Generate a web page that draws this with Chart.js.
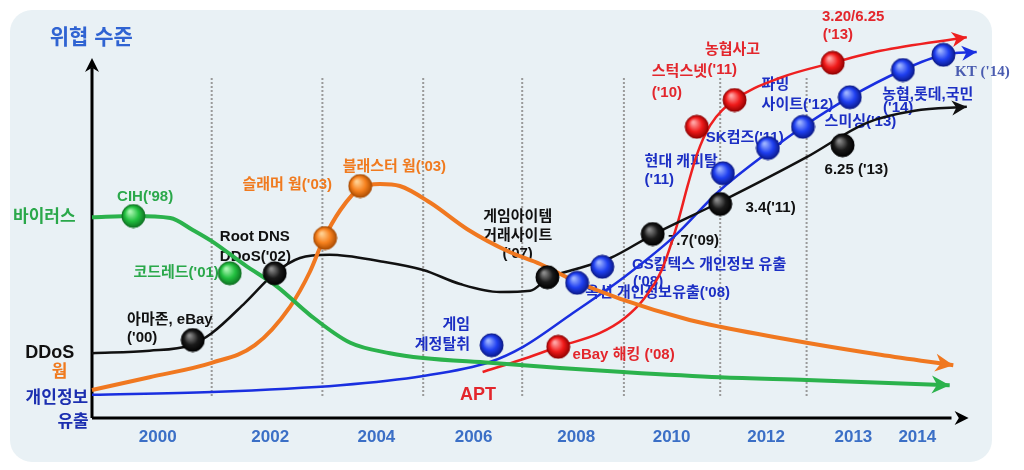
<!DOCTYPE html>
<html lang="ko">
<head>
<meta charset="utf-8">
<title>위협 수준 변화</title>
<script src="https://cdn.jsdelivr.net/npm/chart.js@4.4.1/dist/chart.umd.min.js"></script>
<style>
  html, body { margin: 0; padding: 0; background: #fff; }
  #wrap { width: 1024px; height: 470px; }
</style>
</head>
<body>
<div id="wrap"><canvas id="threatChart" width="1024" height="470"></canvas></div>
<script>
// x: timeline position (0-100), y: threat level (0-100)
const yearLabels = ["2000", "2002", "2004", "2006", "2008", "2010", "2012", "2013", "2014"];
const yearPositions = [7.3, 19.8, 31.6, 42.4, 53.8, 64.4, 74.9, 84.6, 91.7];
const dividerPositions = [13.3, 25.6, 36.8, 47.8, 59.1, 69.8, 79.4];

const virusCurve = [[0, 50.2], [4.6, 50.5], [8.7, 50], [11.2, 47], [13.3, 44.2], [17, 38.2], [20.6, 32.8],
  [24.2, 25.8], [28.7, 18.8], [33.1, 16.2], [36.8, 15], [44.2, 13.8], [52, 12.5], [59, 11.5],
  [69.8, 10.2], [79.4, 9.5], [95.3, 8.2]];
const wormCurve = [[0, 7], [6.4, 10.2], [13.3, 13.8], [18.1, 18.2], [22, 27.8], [24.2, 36.5], [25.7, 44.5],
  [27.6, 52], [29.8, 57.5], [32, 58.5], [34.2, 58], [37.6, 53.8], [41.7, 47.2], [46.4, 41.5],
  [49.8, 38.5], [53.4, 34.5], [58.7, 29.8], [66.4, 24.5], [69.8, 22.8], [79.4, 18.8], [87.6, 15.8], [95.7, 13.2]];
const ddosCurve = [[0, 16.2], [6.4, 16.8], [10.9, 18.2], [13.3, 21.2], [17, 28.8], [20.3, 36.2], [23.1, 40],
  [26.4, 40.8], [32, 39.2], [36.8, 37], [40.9, 33.5], [45.3, 31.5], [48.7, 31.8], [50.7, 35],
  [54.2, 37.5], [57.6, 40], [62.3, 45.8], [69.8, 54], [79.4, 65.2], [86.1, 73.8], [91.4, 76.8], [97.2, 77.8]];
const leakCurve = [[0, 5.8], [13.3, 6.5], [27.6, 8.2], [36.8, 10.5], [44.2, 14], [47.9, 17.8], [53.4, 26.2],
  [59, 35], [64.6, 45.2], [69.8, 57], [75.3, 66.8], [79, 72.8], [84.2, 80.2], [90.1, 87], [94.6, 90.8], [98.3, 91.5]];
const aptCurve = [[43.4, 11.5], [47.6, 14.5], [51.8, 17.8], [56.4, 21.2], [59.2, 25], [61.4, 30], [63.3, 37],
  [65, 48.2], [66.2, 58.2], [67.2, 65.8], [68.7, 73.2], [71.4, 79.5], [76.4, 85], [82.3, 88.8], [87.6, 91.8], [97.2, 95.2]];

const virusEvents = [[4.6, 50.5], [15.3, 36.2]];
const wormEvents = [[25.9, 45], [29.8, 58]];
const ddosEvents = [[11.2, 19.5], [20.3, 36.2], [50.6, 35.2], [62.3, 46], [69.8, 53.5], [83.4, 68.2]];
const leakEvents = [[44.4, 18.2], [53.9, 33.8], [56.7, 37.8], [70.1, 61.2], [75.1, 67.5], [79, 72.8],
  [84.2, 80.2], [90.1, 87], [94.6, 90.8]];
const aptEvents = [[51.8, 17.8], [67.2, 72.8], [71.4, 79.5], [82.3, 88.8]];

// [text, x, y, colour key, align]
const notes = [
  ["CIH('98)", 5.9, 55.2, "g", "center"],
  ["코드레드('01)", 4.6, 36.2, "g", "left"],
  ["슬래머 웜('03)", 21.7, 58.2, "o", "center"],
  ["블래스터 웜('03)", 33.6, 62.8, "o", "center"],
  ["Root DNS", 14.2, 45.2, "k", "left"],
  ["DDoS('02)", 14.2, 40.2, "k", "left"],
  ["아마존, eBay", 3.9, 24.5, "k", "left"],
  ["('00)", 3.9, 20, "k", "left"],
  ["게임아이템", 47.3, 50.2, "k", "center"],
  ["거래사이트", 47.3, 45.5, "k", "center"],
  ["('07)", 47.3, 41, "k", "center"],
  ["7.7('09)", 64, 44.2, "k", "left"],
  ["3.4('11)", 72.6, 52.5, "k", "left"],
  ["6.25 ('13)", 81.4, 62, "k", "left"],
  ["게임", 42, 23.2, "b", "right"],
  ["계정탈취", 42, 18.2, "b", "right"],
  ["옥션 개인정보유출('08)", 54.8, 31.2, "b", "left"],
  ["GS칼텍스 개인정보 유출", 60, 38.2, "b", "left"],
  ["('08)", 60.1, 34, "b", "left"],
  ["현대 캐피탈", 61.4, 64, "b", "left"],
  ["('11)", 61.4, 59.5, "b", "left"],
  ["SK컴즈('11)", 68.2, 70, "b", "left"],
  ["스미싱('13)", 81.4, 74, "b", "left"],
  ["파밍", 74.4, 83.2, "b", "left"],
  ["사이트('12)", 74.4, 78.2, "b", "left"],
  ["농협,롯데,국민", 87.8, 80.8, "b", "left"],
  ["('14)", 87.9, 77.5, "b", "left"],
  ["KT ('14)", 95.9, 86.5, "b", "left"],
  ["스턱스넷", 62.2, 86.5, "r", "left"],
  ["('10)", 62.2, 81.2, "r", "left"],
  ["농협사고", 68.1, 92, "r", "left"],
  ["('11)", 68.4, 87, "r", "left"],
  ["3.20/6.25", 81.1, 100.2, "r", "left"],
  ["('13)", 81.2, 95.8, "r", "left"],
  ["eBay 해킹 ('08)", 53.4, 15.8, "r", "left"]
];

const FONT = '"Liberation Sans", "Noto Sans CJK KR", sans-serif';
const textColors = { g: "#2aa84a", o: "#f07a1e", k: "#111111", b: "#1c2fc4", r: "#e3262c" };

function ball(base, light, dark) {
  const c = document.createElement("canvas");
  c.width = 25; c.height = 25;
  const g = c.getContext("2d");
  const grad = g.createRadialGradient(9, 8, 1, 12.5, 12.5, 12);
  grad.addColorStop(0, light);
  grad.addColorStop(0.55, base);
  grad.addColorStop(1, dark);
  g.beginPath();
  g.arc(12.5, 12.5, 11.5, 0, Math.PI * 2);
  g.fillStyle = grad;
  g.fill();
  g.lineWidth = 1;
  g.strokeStyle = dark;
  g.stroke();
  return c;
}

const toXY = arr => arr.map(p => ({ x: p[0], y: p[1] }));

function curveSet(label, data, color, width) {
  return {
    type: "line", label: label, data: toXY(data), borderColor: color, borderWidth: width,
    pointRadius: 0, fill: false, cubicInterpolationMode: "monotone", clip: false, order: 1, arrow: true
  };
}
function eventSet(label, data, img) {
  return {
    type: "scatter", label: label, data: toXY(data), pointStyle: img, pointRadius: 12,
    showLine: false, clip: false, order: 0
  };
}

function arrowHead(ctx, x1, y1, x2, y2, size, color) {
  const a = Math.atan2(y2 - y1, x2 - x1);
  ctx.save();
  ctx.translate(x2, y2);
  ctx.rotate(a);
  ctx.beginPath();
  ctx.moveTo(0, 0);
  ctx.lineTo(-size, -size * 0.5);
  ctx.lineTo(-size * 0.7, 0);
  ctx.lineTo(-size, size * 0.5);
  ctx.closePath();
  ctx.fillStyle = color;
  ctx.fill();
  ctx.restore();
}

function text(ctx, str, x, y, color, size, align) {
  ctx.font = "bold " + size + "px " + FONT;
  ctx.fillStyle = color;
  ctx.textAlign = align || "left";
  ctx.textBaseline = "middle";
  ctx.fillText(str, x, y);
}

const decorations = {
  id: "decorations",
  beforeDraw(chart) {
    const ctx = chart.ctx;
    ctx.save();
    ctx.fillStyle = "#ffffff";
    ctx.fillRect(0, 0, chart.width, chart.height);
    ctx.beginPath();
    ctx.roundRect(10, 10, 982, 452, 22);
    ctx.fillStyle = "#e9f1f5";
    ctx.fill();
    ctx.restore();
  },
  beforeDatasetsDraw(chart) {
    const ctx = chart.ctx;
    const X = v => chart.scales.x.getPixelForValue(v);
    const Y = v => chart.scales.y.getPixelForValue(v);
    ctx.save();
    // dotted dividers
    ctx.strokeStyle = "#9a9a9a";
    ctx.lineWidth = 2;
    ctx.setLineDash([2, 2]);
    dividerPositions.forEach(d => {
      ctx.beginPath();
      ctx.moveTo(X(d), Y(85));
      ctx.lineTo(X(d), Y(5.2));
      ctx.stroke();
    });
    ctx.setLineDash([]);
    // axes
    ctx.strokeStyle = "#000";
    ctx.lineWidth = 3;
    ctx.beginPath();
    ctx.moveTo(X(0), Y(0));
    ctx.lineTo(X(0), Y(87.5));
    ctx.moveTo(X(0), Y(0));
    ctx.lineTo(X(95.5), Y(0));
    ctx.stroke();
    arrowHead(ctx, X(0), Y(0), X(0), Y(90), 14, "#000");
    arrowHead(ctx, X(0), Y(0), X(97.4), Y(0), 14, "#000");
    // year labels
    yearLabels.forEach((lab, i) => text(ctx, lab, X(yearPositions[i]), Y(-4.75), "#3b6fc6", 17, "center"));
    // series names and axis title
    text(ctx, "위협 수준", X(-4.7), Y(95), "#2f63d2", 21, "left");
    text(ctx, "바이러스", X(-5.3), Y(50.2), "#2aa84a", 17, "center");
    text(ctx, "DDoS", X(-4.7), Y(16.2), "#111", 18, "center");
    text(ctx, "웜", X(-3.6), Y(11.5), "#f07a1e", 17, "center");
    text(ctx, "개인정보", X(-3.9), Y(5), "#1c2fb0", 17, "center");
    text(ctx, "유출", X(-2.1), Y(-1.2), "#1c2fb0", 17, "center");
    text(ctx, "APT", X(42.9), Y(5.8), "#e3262c", 18, "center");
    notes.forEach(n => {
      if (n[0].startsWith("KT")) {
        ctx.font = "bold 15px \"Liberation Serif\", serif";
        ctx.fillStyle = "#4a5cb0";
        ctx.textAlign = "left";
        ctx.textBaseline = "middle";
        ctx.fillText(n[0], X(n[1]), Y(n[2]));
      } else {
        text(ctx, n[0], X(n[1]), Y(n[2]), textColors[n[3]], 15, n[4]);
      }
    });
    ctx.restore();
  },
  afterDatasetsDraw(chart) {
    const ctx = chart.ctx;
    chart.data.datasets.forEach((ds, i) => {
      if (!ds.arrow) return;
      const pts = chart.getDatasetMeta(i).data;
      const a = pts[pts.length - 2], b = pts[pts.length - 1];
      arrowHead(ctx, a.x, a.y, b.x, b.y, ds.borderWidth > 3 ? 18 : 15, ds.borderColor);
    });
  }
};

new Chart(document.getElementById("threatChart"), {
  data: {
    datasets: [
      eventSet("바이러스 사건", virusEvents, ball("#22c040", "#a8f5b0", "#0d7020")),
      eventSet("웜 사건", wormEvents, ball("#f7811e", "#ffcf90", "#a84a00")),
      eventSet("DDoS 사건", ddosEvents, ball("#1a1a1a", "#8a8a8a", "#000000")),
      eventSet("개인정보 유출 사건", leakEvents, ball("#1f3ff0", "#9cb2ff", "#0a1888")),
      eventSet("APT 사건", aptEvents, ball("#f01a1a", "#ffa5a5", "#900000")),
      curveSet("바이러스", virusCurve, "#2bb24c", 4),
      curveSet("웜", wormCurve, "#f07820", 4),
      curveSet("DDoS", ddosCurve, "#111111", 2.5),
      curveSet("개인정보 유출", leakCurve, "#1a2fe0", 2.5),
      curveSet("APT", aptCurve, "#ee2020", 2.5)
    ]
  },
  options: {
    responsive: false,
    animation: false,
    layout: { padding: { left: 92, right: 32, top: 18, bottom: 52 } },
    scales: {
      x: { type: "linear", min: 0, max: 100, display: false },
      y: { type: "linear", min: 0, max: 100, display: false }
    },
    plugins: { legend: { display: false }, tooltip: { enabled: false } }
  },
  plugins: [decorations]
});
</script>
</body>
</html>
